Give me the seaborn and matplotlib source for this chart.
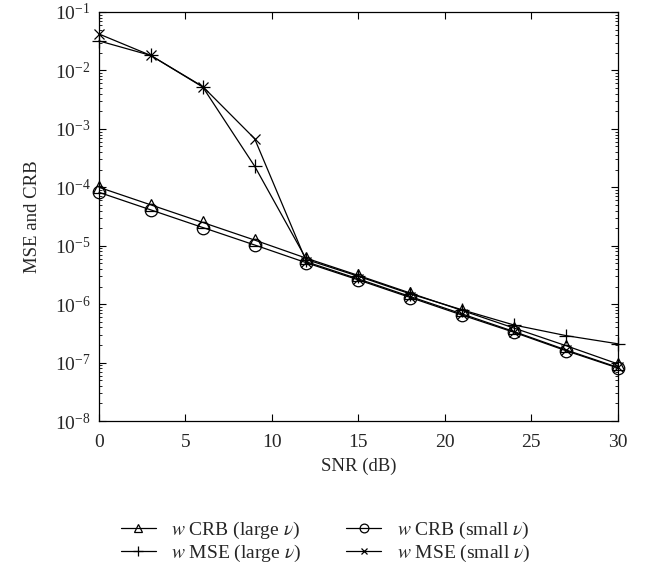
import numpy as np
import pandas as pd
import seaborn as sns
import matplotlib.pyplot as plt
from matplotlib.ticker import LogLocator, NullFormatter

snr_db = [0, 3, 6, 9, 12, 15, 18, 21, 24, 27, 30]
crb_large = [1.0e-4, 5.0e-5, 2.5e-5, 1.25e-5, 6.1e-6, 3.1e-6, 1.55e-6, 7.8e-7, 3.9e-7, 1.95e-7, 9.5e-8]
crb_small = [8.2e-5, 4.1e-5, 2.05e-5, 1.03e-5, 5.1e-6, 2.6e-6, 1.3e-6, 6.5e-7, 3.3e-7, 1.6e-7, 8.1e-8]
mse_large = [3.2e-2, 1.8e-2, 5.2e-3, 2.3e-4, 5.8e-6, 3.0e-6, 1.5e-6, 8.0e-7, 4.4e-7, 2.9e-7, 2.1e-7]
mse_small = [4.2e-2, 1.8e-2, 5.3e-3, 6.8e-4, 5.3e-6, 2.7e-6, 1.35e-6, 6.8e-7, 3.4e-7, 1.65e-7, 8.3e-8]

labels = [r'$w$ CRB (large $\nu$)', r'$w$ MSE (large $\nu$)',
          r'$w$ CRB (small $\nu$)', r'$w$ MSE (small $\nu$)']

sns.set_style('ticks')
plt.rcParams['font.family'] = ['Liberation Serif', 'DejaVu Serif']
plt.rcParams['mathtext.fontset'] = 'stix'
plt.rcParams['xtick.direction'] = 'in'
plt.rcParams['ytick.direction'] = 'in'

fig = plt.figure(figsize=(6.51, 5.69), dpi=100)
ax = fig.add_axes([0.152, 0.260, 0.797, 0.719])

series = [
    (crb_large, '^', 8, labels[0]),
    (mse_large, '+', 10, labels[1]),
    (crb_small, 'o', 9, labels[2]),
    (mse_small, 'x', 7, labels[3]),
]
for vals, mk, ms, lab in series:
    df = pd.DataFrame({'snr': snr_db, 'val': vals})
    sns.lineplot(data=df, x='snr', y='val', ax=ax, color='black', linewidth=0.9,
                 marker=mk, markersize=ms, markerfacecolor='none',
                 markeredgecolor='black', markeredgewidth=0.9, label=lab,
                 clip_on=False, legend=True)

ax.set_yscale('log')
ax.set_xlim(0, 30)
ax.set_ylim(1e-8, 1e-1)
ax.set_xticks([0, 5, 10, 15, 20, 25, 30])
ax.yaxis.set_major_locator(LogLocator(base=10, numticks=10))
ax.yaxis.set_minor_locator(LogLocator(base=10, subs=np.arange(2, 10), numticks=20))
ax.yaxis.set_minor_formatter(NullFormatter())
ax.tick_params(which='both', top=True, right=True, labelsize=14, color='black')
ax.tick_params(axis='x', which='major', pad=9)
ax.tick_params(axis='y', which='major', pad=6)
ax.tick_params(which='major', length=5)
ax.tick_params(which='minor', length=2.5)
for s in ax.spines.values():
    s.set_color('black')
    s.set_linewidth(0.9)

ax.set_xlabel('SNR (dB)', fontsize=13.5, labelpad=5)
ax.set_ylabel('MSE and CRB', fontsize=13.5, labelpad=10)

handles, labs = ax.get_legend_handles_labels()
ax.get_legend().remove()
fig.legend(handles, labs, loc='center', bbox_to_anchor=(0.5, 0.048), ncol=2,
           frameon=False, fontsize=14, handlelength=1.8, handletextpad=0.8,
           columnspacing=2.3, labelspacing=0.1, markerscale=0.7)

fig.savefig('out.png', dpi=100)
